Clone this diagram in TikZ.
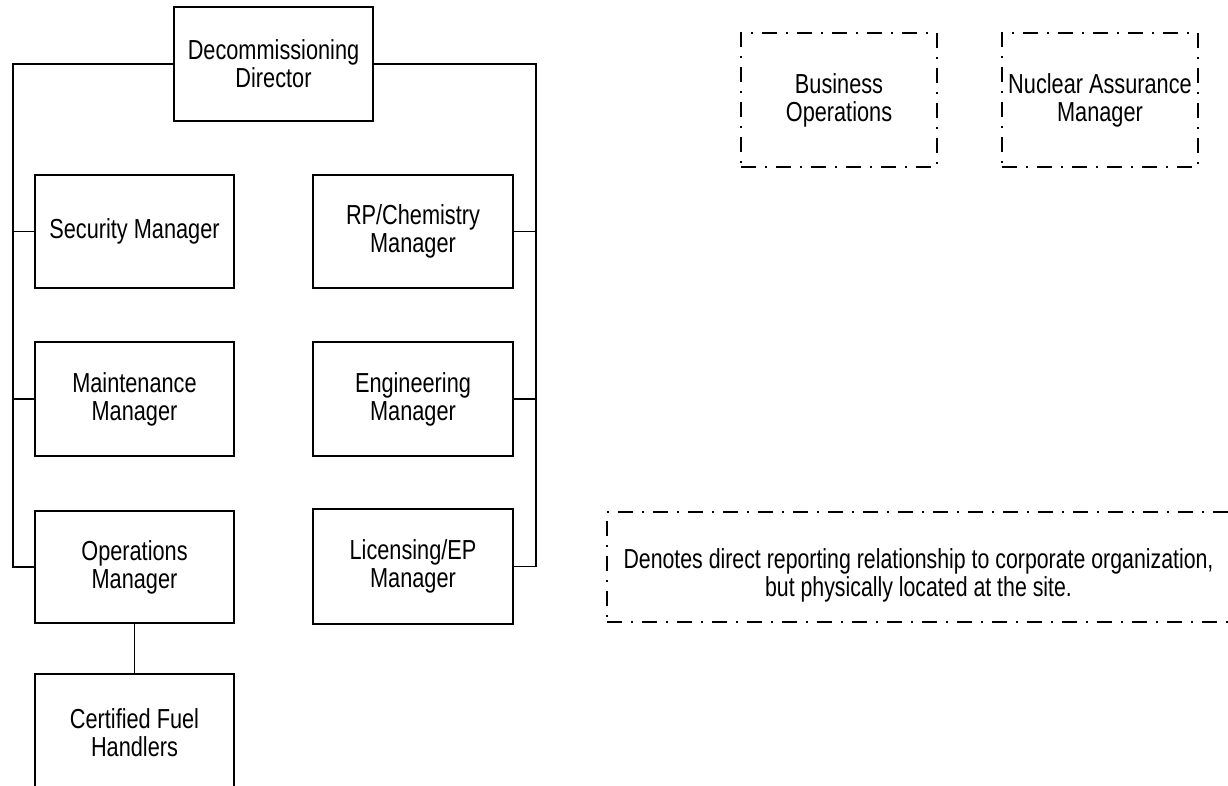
\documentclass[tikz,border=0pt]{standalone}
\usepackage{fontspec}
\setmainfont{Liberation Sans}
\newfontfamily\boxfont[FakeStretch=0.79]{Liberation Sans}
\newfontfamily\legfont[FakeStretch=0.775]{Liberation Sans}
\begin{document}
\begin{tikzpicture}[x=1pt,y=-1pt,
  every node/.style={font=\boxfont\fontsize{27.5}{28}\selectfont, align=center, inner sep=0pt},
  orgbox/.style={draw, line width=1.6pt, minimum width=199pt, minimum height=114pt},
  dashbox/.style={draw, line width=1.5pt, dash pattern={on 15pt off 9pt on 2pt off 9pt}},
  legendtext/.style={font=\legfont\fontsize{27.5}{28}\selectfont},
  link/.style={line width=1.6pt}]
\useasboundingbox (0,0) rectangle (1228,786);
\clip (0,0) rectangle (1228,786);
% boxes
\node[orgbox] (dir) at (273.5,64) {Decommissioning\\Director};
\node[orgbox, minimum height=113pt] (sec) at (134.5,231.5) {Security Manager};
\node[orgbox] (mnt) at (134.5,399) {Maintenance\\Manager};
\node[orgbox, minimum height=112pt] (ops) at (134.5,567) {Operations\\Manager};
\node[orgbox, minimum height=118pt] (cfh) at (134.5,733) {Certified Fuel\\Handlers};
\node[orgbox, minimum width=200pt, minimum height=113pt] (rpc) at (413,231.5) {RP/Chemistry\\Manager};
\node[orgbox, minimum width=200pt] (eng) at (413,399) {Engineering\\Manager};
\node[orgbox, minimum width=200pt, minimum height=115pt] (lic) at (413,566.5) {Licensing/EP\\Manager};
% dash-dot boxes
\node[dashbox, minimum width=196pt, minimum height=134pt] (bus) at (839,100) {Business\\Operations};
\node[dashbox, minimum width=196pt, minimum height=134pt] (nuc) at (1100,100) {Nuclear Assurance\\Manager};
\node[dashbox, minimum width=623pt, minimum height=110pt] (leg) at (918.5,567) {};
\node[legendtext] (legtext) at (918.5,575) {Denotes direct reporting relationship to corporate organization,\\but physically located at the site.};
% trunks
\coordinate (ltop) at (13,64);
\coordinate (lbot) at (13,567);
\coordinate (rtop) at (536,64);
\coordinate (rbot) at (536,566.5);
\draw[link] (dir.west) -- (ltop) -- (lbot) -- (ops.west);
\draw[link] (dir.east) -- (rtop) -- (rbot) -- (lic.east);
\draw[link] (sec.west) -- (sec.west -| ltop);
\draw[link] (mnt.west) -- (mnt.west -| ltop);
\draw[link] (rpc.east) -- (rpc.east -| rtop);
\draw[link] (eng.east) -- (eng.east -| rtop);
\draw[link] (ops.south) -- (cfh.north);
\end{tikzpicture}
\end{document}
